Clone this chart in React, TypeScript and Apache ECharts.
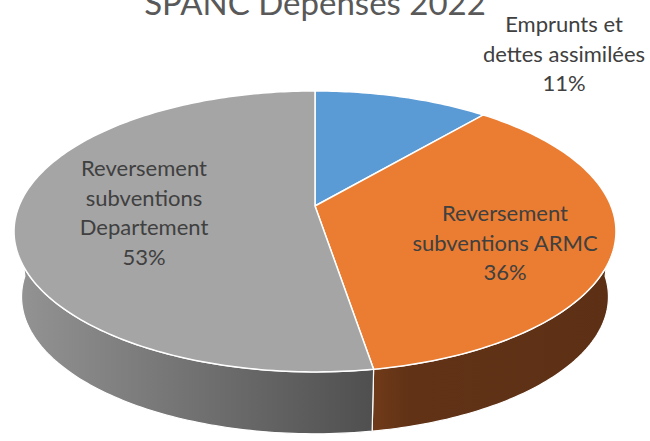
import React, { useEffect, useRef } from 'react';
import * as echarts from 'echarts';

// ---- data ----
const TITLE = 'SPANC Depenses 2022';
const CATEGORIES = [
  'Emprunts et\ndettes assimilées',
  'Reversement\nsubventions ARMC',
  'Reversement\nsubventions\nDepartement',
];
const VALUES = [11.2, 36.2, 52.6];

// ---- styles / layout ----
const TOP_COLORS = ['#5B9BD5', '#EA7D32', '#A5A5A5'];
const SIDE_FILLS: any[] = [
  '#2f5f8c',
  {
    type: 'linear', x: 374, y: 0, x2: 615, y2: 0, global: true,
    colorStops: [
      { offset: 0, color: '#6f3a19' },
      { offset: 0.15, color: '#613216' },
      { offset: 1, color: '#5d3015' },
    ],
  },
  {
    type: 'linear', x: 14, y: 0, x2: 374, y2: 0, global: true,
    colorStops: [
      { offset: 0, color: '#949494' },
      { offset: 1, color: '#4f4f4f' },
    ],
  },
];
const LABEL_POS = [
  [564, 53],
  [505, 242],
  [144, 212],
];
const FONT = 'Lato, "Open Sans", sans-serif';

// pie geometry (perspective ellipse)
const CX = 315;
const CY = 206;
const RX = 296;
const RY = 135.9;
const PERSP = 0.181;
const DEPTH = 66;
const BOTTOM_SCALE = 0.975;

function project(theta: number, r: number, h: number): number[] {
  const s = Math.sin(theta);
  const c = Math.cos(theta);
  const w = 1 + PERSP * c * r;
  const k = h > 0 ? BOTTOM_SCALE : 1;
  return [CX + (RX * r * s * k) / w, CY - (RY * r * c * k) / w + h * DEPTH];
}

function arc(t1: number, t2: number, h: number): number[][] {
  const n = Math.max(2, Math.ceil(((t2 - t1) / (Math.PI * 2)) * 360));
  const pts: number[][] = [];
  for (let k = 0; k <= n; k++) {
    pts.push(project(t1 + ((t2 - t1) * k) / n, 1, h));
  }
  return pts;
}

export default function App() {
  const ref = useRef<HTMLDivElement>(null);
  useEffect(() => {
    if (!ref.current) return;
    const chart = echarts.init(ref.current, undefined, { renderer: 'svg' });
    const total = VALUES.reduce((a, b) => a + b, 0);
    const visA = Math.acos(-PERSP);
    const visB = Math.PI * 2 - visA;

    const option: any = {
      animation: false,
      backgroundColor: '#ffffff',
      graphic: [
        {
          type: 'text',
          x: 315,
          y: 2,
          style: {
            text: TITLE,
            fill: '#595959',
            fontSize: 33,
            fontFamily: FONT,
            align: 'center',
            verticalAlign: 'middle',
          },
          z: 100,
        },
      ],
      series: [
        {
          type: 'custom',
          coordinateSystem: 'none',
          data: VALUES.map((v, i) => ({ value: v, name: CATEGORIES[i] })),
          renderItem: (params: any, api: any) => {
            const i = params.dataIndex;
            const val = api.value(0);
            let start = 0;
            for (let j = 0; j < i; j++) start += VALUES[j];
            const t1 = (start / total) * Math.PI * 2;
            const t2 = ((start + val) / total) * Math.PI * 2;
            const children: any[] = [];
            const w1 = Math.max(t1, visA - 0.15);
            const w2 = Math.min(t2, visB + 0.15);
            if (w2 > w1) {
              const topArc = arc(w1, w2, 0);
              const botArc = arc(w1, w2, 1).reverse();
              children.push({
                type: 'polygon',
                z2: 1,
                shape: { points: topArc.concat(botArc) },
                style: { fill: SIDE_FILLS[i], stroke: '#ffffff', lineWidth: 1.2 },
              });
            }
            const topPts = [project(0, 0, 0)].concat(arc(t1, t2, 0));
            children.push({
              type: 'polygon',
              z2: 10,
              shape: { points: topPts },
              style: { fill: TOP_COLORS[i], stroke: '#ffffff', lineWidth: 1.5 },
            });
            const pct = Math.round((val / total) * 100);
            children.push({
              type: 'text',
              z2: 20,
              x: LABEL_POS[i][0],
              y: LABEL_POS[i][1],
              style: {
                text: CATEGORIES[i] + '\n' + pct + '%',
                fill: '#404040',
                fontSize: 22,
                fontFamily: FONT,
                align: 'center',
                verticalAlign: 'middle',
                lineHeight: 29.5,
              },
            });
            return { type: 'group', children };
          },
        },
      ],
    };
    chart.setOption(option);
    return () => chart.dispose();
  }, []);
  return (
    <div
      ref={ref}
      style={{ position: 'fixed', left: 0, top: 0, width: 650, height: 441, background: '#fff' }}
    />
  );
}
